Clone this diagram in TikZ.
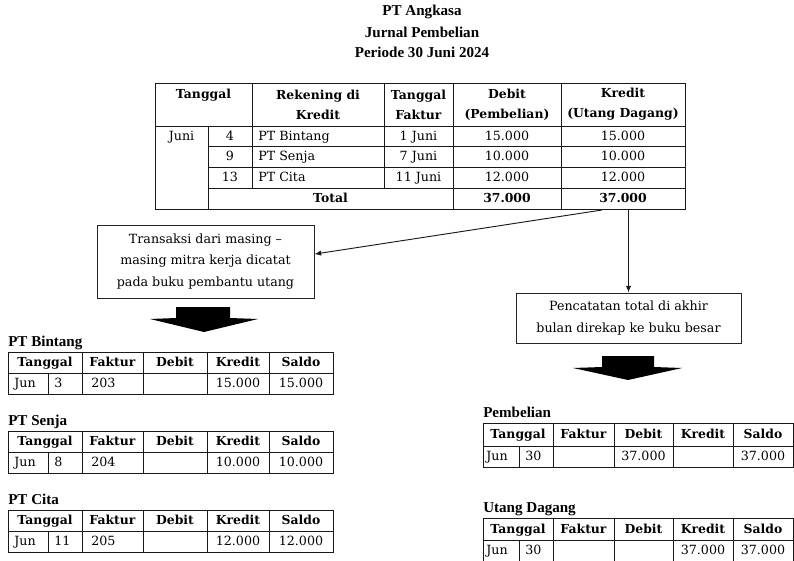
\documentclass[tikz,border=0pt]{standalone}
\usepackage{fontspec}
\setmainfont{DejaVu Serif}
\newfontfamily\titlefont{Liberation Serif}
\usetikzlibrary{arrows.meta,calc}

\tikzset{
  grid/.style={draw=black!90, line width=0.75pt},
  txt/.style={inner sep=0pt, font=\fontsize{9.5}{16}\selectfont, text height=8pt, text depth=1.5pt},
  hd/.style={inner sep=0pt, font=\fontsize{9.3}{15}\selectfont\bfseries, text height=8pt, text depth=1.5pt},
  hdtwo/.style={inner sep=0pt, align=center, font=\fontsize{9.3}{15}\selectfont\bfseries},
  ttl/.style={inner sep=0pt, font=\titlefont\bfseries\fontsize{11.3}{14}\selectfont},
  lbl/.style={inner sep=0pt, font=\titlefont\bfseries\fontsize{11.3}{14}\selectfont},
  callout/.style={draw=black!85, line width=0.75pt, align=center, inner sep=0pt, font=\fontsize{9.5}{16}\selectfont},
  blockarrow/.style={fill=black},
  conn/.style={draw=black!90, line width=0.7pt, -{Latex[length=5pt,width=4pt]}},
}

% ledger grid and header: #1 prefix, #2 top y, #3 title
\newcommand\ledger[3]{%
  \node[lbl, anchor=base west] (#1-title) at (\ca,#2-6) {#3};
  \draw[grid] (\ca,#2) rectangle (\cg,#2+\hh+\rh);
  \draw[grid] (\ca,#2+\hh) -- (\cg,#2+\hh);
  \draw[grid] (\cb,#2+\hh) -- (\cb,#2+\hh+\rh);
  \foreach \xx in {\cc,\cd,\ce,\cf} {\draw[grid] (\xx,#2) -- (\xx,#2+\hh+\rh);}
  \node[hd] (#1-htgl) at ({(\ca+\cc)/2},{#2+\hh/2}) {Tanggal};
  \node[hd] (#1-hfak) at ({(\cc+\cd)/2},{#2+\hh/2}) {Faktur};
  \node[hd] (#1-hdeb) at ({(\cd+\ce)/2},{#2+\hh/2}) {Debit};
  \node[hd] (#1-hkre) at ({(\ce+\cf)/2},{#2+\hh/2}) {Kredit};
  \node[hd] (#1-hsal) at ({(\cf+\cg)/2},{#2+\hh/2}) {Saldo};
}
% ledger data row: #1 prefix, #2 top y, #3 day, #4 faktur, #5 debit, #6 kredit, #7 saldo
\newcommand\ledgerrow[7]{%
  \node[txt, anchor=west] (#1-m) at (\ca+\jpad,#2+\hh+10.5) {Jun};
  \node[txt, anchor=west] (#1-d) at (\cb+6,#2+\hh+10.5) {#3};
  \if\relax\detokenize{#4}\relax\else
    \node[txt, anchor=west] (#1-f) at (\cc+9,#2+\hh+10.5) {#4};\fi
  \if\relax\detokenize{#5}\relax\else
    \node[txt] (#1-db) at ({(\cd+\ce)/2},{#2+\hh+10.5}) {#5};\fi
  \if\relax\detokenize{#6}\relax\else
    \node[txt] (#1-kr) at ({(\ce+\cf)/2},{#2+\hh+10.5}) {#6};\fi
  \if\relax\detokenize{#7}\relax\else
    \node[txt] (#1-sa) at ({(\cf+\cg)/2},{#2+\hh+10.5}) {#7};\fi
}

\begin{document}
\begin{tikzpicture}[x=0.75pt,y=-0.75pt]
\useasboundingbox (0,0) rectangle (794,561);
\clip (0,0) rectangle (794,561);

% titles
\node[ttl] (t1) at (422,12) {PT Angkasa};
\node[ttl] (t2) at (422,32) {Jurnal Pembelian};
\node[ttl] (t3) at (422,52) {Periode 30 Juni 2024};

% main journal table
\draw[grid] (155,83) rectangle (685,209);
\draw[grid] (155,126) -- (685,126);
\foreach \y in {146,167,188} {\draw[grid] (208,\y) -- (685,\y);}
\draw[grid] (208,126) -- (208,209);
\foreach \x in {252,384} {\draw[grid] (\x,83) -- (\x,188);}
\foreach \x in {453,561} {\draw[grid] (\x,83) -- (\x,209);}

\node[hd] (h-tgl) at (203.5,94.5) {Tanggal};
\node[hdtwo] (h-rek) at (318,104.5) {Rekening di\\Kredit};
\node[hdtwo] (h-fak) at (418.5,104.5) {Tanggal\\Faktur};
\node[hdtwo] (h-deb) at (507,104.5) {Debit\\(Pembelian)};
\node[hdtwo] (h-kre) at (623,104.5) {Kredit\\(Utang Dagang)};

\node[txt] (r1-m) at (181.5,136) {Juni};
\node[txt] (r1-d) at (230,136) {4};
\node[txt, anchor=west] (r1-n) at (258,136) {PT Bintang};
\node[txt] (r1-f) at (418.5,136) {1 Juni};
\node[txt] (r1-db) at (507,136) {15.000};
\node[txt] (r1-kr) at (623,136) {15.000};

\node[txt] (r2-d) at (230,156.5) {9};
\node[txt, anchor=west] (r2-n) at (258,156.5) {PT Senja};
\node[txt] (r2-f) at (418.5,156.5) {7 Juni};
\node[txt] (r2-db) at (507,156.5) {10.000};
\node[txt] (r2-kr) at (623,156.5) {10.000};

\node[txt] (r3-d) at (230,177.5) {13};
\node[txt, anchor=west] (r3-n) at (258,177.5) {PT Cita};
\node[txt] (r3-f) at (418.5,177.5) {11 Juni};
\node[txt] (r3-db) at (507,177.5) {12.000};
\node[txt] (r3-kr) at (623,177.5) {12.000};

\node[hd] (tot) at (330.5,198.5) {Total};
\node[hd] (tot-db) at (507,198.5) {37.000};
\node[hd] (tot-kr) at (623,198.5) {37.000};

% connectors
\coordinate (dstart) at (602,210);
\node[callout, minimum width=162.75pt, minimum height=54.75pt] (lbox) at (205.5,261.5)
  {Transaksi dari masing –\\masing mitra kerja dicatat\\pada buku pembantu utang};
\node[callout, minimum width=168.75pt, minimum height=37.5pt] (rbox) at (628.5,318)
  {Pencatatan total di akhir\\bulan direkap ke buku besar};
\draw[conn] (dstart) -- ($(lbox.north east)!0.4!(lbox.south east)$);
\draw[conn] (rbox.north |- dstart) -- (rbox.north);

% block arrows
\fill[blockarrow] (176,307) -- (230,307) -- (230,318) -- (258,319) -- (204,332) -- (150,319) -- (176,318) -- cycle;
\fill[blockarrow] (602,356) -- (654,356) -- (654,367) -- (682,368) -- (628,380) -- (573,368) -- (602,367) -- cycle;

% subsidiary ledgers (left)
\def\ca{8}\def\cb{48}\def\cc{82}\def\cd{143}\def\ce{207}\def\cf{269}\def\cg{333}
\def\hh{21}\def\rh{21}\def\jpad{6}
\ledger{bin}{352}{PT Bintang}
\ledgerrow{bin}{352}{3}{203}{}{15.000}{15.000}
\ledger{sen}{431}{PT Senja}
\ledgerrow{sen}{431}{8}{204}{}{10.000}{10.000}
\ledger{cit}{510}{PT Cita}
\ledgerrow{cit}{510}{11}{205}{}{12.000}{12.000}

% general ledger (right)
\def\ca{483}\def\cb{519}\def\cc{553}\def\cd{614}\def\ce{673}\def\cf{733}\def\cg{793}
\def\hh{23}\def\rh{21}\def\jpad{3}
\ledger{pem}{423}{Pembelian}
\ledgerrow{pem}{423}{30}{}{37.000}{}{37.000}
\def\hh{22}\def\rh{26}
\ledger{utg}{518}{Utang Dagang}
\ledgerrow{utg}{518}{30}{}{}{37.000}{37.000}
\end{tikzpicture}
\end{document}
